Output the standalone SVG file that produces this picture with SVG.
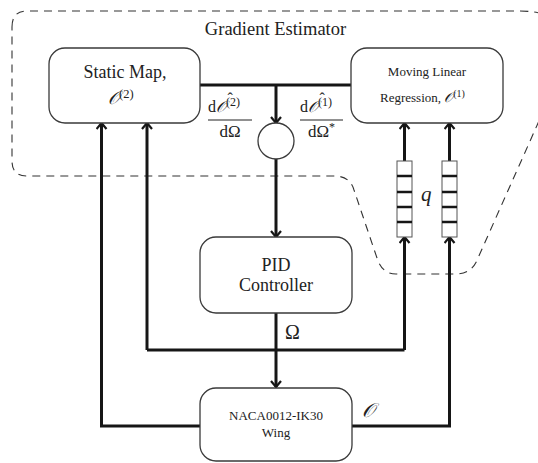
<svg xmlns="http://www.w3.org/2000/svg" width="538" height="463" viewBox="0 0 538 463">
<defs>
<style>
.box{fill:#fff;stroke:#3a3a3a;stroke-width:1.3}
.t{font-family:"Liberation Serif","Times New Roman",serif;fill:#222;text-anchor:middle}
.m{font-family:"Liberation Serif","Times New Roman",serif;fill:#222}
.scr{font-family:"DejaVu Serif","DejaVu Sans",serif;font-style:italic}
.c{fill:none;stroke:#161616;stroke-width:3}
.dash{fill:none;stroke:#333;stroke-width:1.1;stroke-dasharray:8 6}
.q{fill:#fff;stroke:#555;stroke-width:1}
.qd{stroke:#161616;stroke-width:2.5}
</style>
<marker id="ah" viewBox="0 0 12 12" markerWidth="12" markerHeight="12" refX="7.5" refY="6" orient="auto" markerUnits="userSpaceOnUse">
<path d="M1.5,1 L7.5,6 L1.5,11" fill="none" stroke="#161616" stroke-width="2.2"/>
</marker>
</defs>

<g id="gradient-estimator">
<path class="dash" d="M12,27 Q12,11 27,11 L520,11 Q560,11 575,40 L478,258 Q472,274 456,274 L396,274 Q382,274 377,258 L354,190 Q350,176 334,176 L27,176 Q12,176 12,161 Z"/>
<text class="t" x="275.5" y="35" font-size="18.5">Gradient Estimator</text>
</g>

<g id="connectors">
<path class="c" d="M200,85 L351,85"/>
<path class="c" d="M276,85 L276,123" marker-end="url(#ah)"/>
<path class="c" d="M276,159 L276,237" marker-end="url(#ah)"/>
<path class="c" d="M276,313 L276,387" marker-end="url(#ah)"/>
<path class="c" d="M147,350 L404.5,350"/>
<path class="c" d="M147,350 L147,123" marker-end="url(#ah)"/>
<path class="c" d="M404.5,350 L404.5,237" marker-end="url(#ah)"/>
<path class="c" d="M404.5,161 L404.5,123" marker-end="url(#ah)"/>
<path class="c" d="M449.5,161 L449.5,123" marker-end="url(#ah)"/>
<path class="c" d="M200,426 L101.5,426 L101.5,123" marker-end="url(#ah)"/>
<path class="c" d="M352,426 L449.5,426 L449.5,237" marker-end="url(#ah)"/>
</g>

<g id="static-map">
<rect class="box" x="49" y="48" width="151" height="75" rx="16"/>
<text class="t" x="125" y="78" font-size="18">Static Map,</text>
<text class="m" x="108" y="104" font-size="18"><tspan class="scr">𝒪</tspan><tspan font-size="12.5" dy="-6">(2)</tspan></text>
</g>

<g id="moving-linear-regression">
<rect class="box" x="351" y="48" width="152" height="75" rx="16"/>
<text class="t" x="427" y="76" font-size="13">Moving Linear</text>
<text class="m" x="380" y="102" font-size="13">Regression, <tspan class="scr" font-size="14">𝒪</tspan><tspan font-size="10" dy="-5">(1)</tspan></text>
</g>

<g id="summing-junction">
<circle cx="276" cy="141" r="18" fill="#fff" stroke="#3a3a3a" stroke-width="1.3"/>
</g>

<g id="label-d2">
<text class="m" x="208" y="112" font-size="16">d<tspan class="scr">𝒪</tspan><tspan font-size="12" dy="-6">(2)</tspan><tspan x="227.5" y="104" font-size="16">ˆ</tspan></text>
<line x1="208" y1="120" x2="252" y2="120" stroke="#222" stroke-width="1"/>
<text class="t" x="230" y="137" font-size="17">dΩ</text>
</g>

<g id="label-d1">
<text class="m" x="300" y="112" font-size="16">d<tspan class="scr">𝒪</tspan><tspan font-size="12" dy="-6">(1)</tspan><tspan x="319.5" y="104" font-size="16">ˆ</tspan></text>
<line x1="300" y1="120" x2="343" y2="120" stroke="#222" stroke-width="1"/>
<text class="t" x="321.5" y="137" font-size="17">dΩ<tspan font-size="12" dy="-6">*</tspan></text>
</g>

<g id="queue-1">
<rect class="q" x="397" y="161" width="15" height="76"/>
<line class="qd" x1="397" y1="176" x2="412" y2="176"/>
<line class="qd" x1="397" y1="192" x2="412" y2="192"/>
<line class="qd" x1="397" y1="207" x2="412" y2="207"/>
<line class="qd" x1="397" y1="222" x2="412" y2="222"/>
</g>
<g id="queue-2">
<rect class="q" x="442" y="161" width="15" height="76"/>
<line class="qd" x1="442" y1="176" x2="457" y2="176"/>
<line class="qd" x1="442" y1="192" x2="457" y2="192"/>
<line class="qd" x1="442" y1="207" x2="457" y2="207"/>
<line class="qd" x1="442" y1="222" x2="457" y2="222"/>
</g>
<text class="m" x="421" y="201" font-size="21" font-style="italic">q</text>

<g id="pid-controller">
<rect class="box" x="200" y="237" width="152" height="76" rx="16"/>
<text class="t" x="276" y="271" font-size="18">PID</text>
<text class="t" x="276" y="291" font-size="18">Controller</text>
</g>
<text class="m" x="285" y="339" font-size="20">Ω</text>

<g id="wing">
<rect class="box" x="200" y="388" width="152" height="73" rx="16"/>
<text class="t" x="276" y="420" font-size="13">NACA0012-IK30</text>
<text class="t" x="276" y="437" font-size="13">Wing</text>
</g>
<text class="m scr" x="362" y="417" font-size="20">𝒪</text>
</svg>
